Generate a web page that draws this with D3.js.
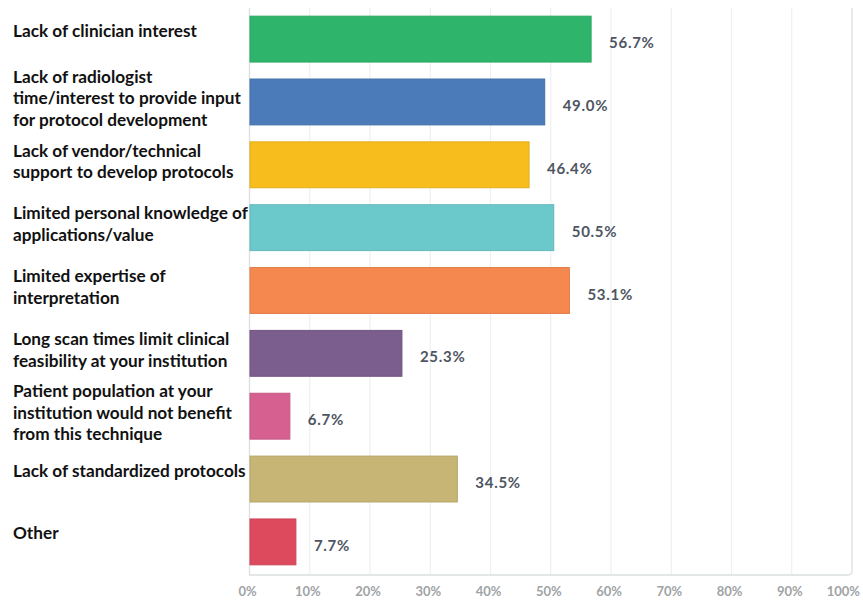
<!DOCTYPE html>
<html>
<head>
<meta charset="utf-8">
<script src="https://cdn.jsdelivr.net/npm/d3@7"></script>
<style>
  html, body { margin: 0; padding: 0; background: #fff; }
  svg { display: block; }
</style>
</head>
<body>
<svg id="chart" width="863" height="602"></svg>
<script>
// ---- data ----
const categories = [
  ["Lack of clinician interest"],
  ["Lack of radiologist", "time/interest to provide input", "for protocol development"],
  ["Lack of vendor/technical", "support to develop protocols"],
  ["Limited personal knowledge of", "applications/value"],
  ["Limited expertise of", "interpretation"],
  ["Long scan times limit clinical", "feasibility at your institution"],
  ["Patient population at your", "institution would not benefit", "from this technique"],
  ["Lack of standardized protocols"],
  ["Other"]
];
const values = [56.7, 49.0, 46.4, 50.5, 53.1, 25.3, 6.7, 34.5, 7.7];
const valueLabels = ["56.7%", "49.0%", "46.4%", "50.5%", "53.1%", "25.3%", "6.7%", "34.5%", "7.7%"];
const colors = ["#2eb56b", "#4b7bb9", "#f6bd1c", "#6bc9cb", "#f5884f", "#7b5d8e", "#d6608f", "#c6b575", "#dd4a5e"];
const tickValues = [0, 10, 20, 30, 40, 50, 60, 70, 80, 90, 100];
const tickLabels = ["0%", "10%", "20%", "30%", "40%", "50%", "60%", "70%", "80%", "90%", "100%"];

(function () {
// ---- layout ----
const W = 863;
const pL = 249.5, pR = 852, pT = 8, pB = 575;
const svg = d3.select("#chart");

const x = d3.scaleLinear().domain([0, 100]).range([pL, pR]);
const y = d3.scaleBand().domain(d3.range(values.length)).range([pT, 573])
  .paddingInner(0.27).paddingOuter(0.13);

// gridlines
svg.append("g").selectAll("line").data(tickValues.slice(1, -1)).join("line")
  .attr("x1", d => x(d)).attr("x2", d => x(d))
  .attr("y1", pT).attr("y2", pB)
  .attr("stroke", "#edf0f1").attr("stroke-width", 1.2);

// frame: left axis, bottom line, right edge with rounded corner
const r = 4;
svg.append("path")
  .attr("d", `M${pL},${pT} L${pL},${pB} L${pR - r},${pB} Q${pR},${pB} ${pR},${pB - r} L${pR},${pT}`)
  .attr("fill", "none").attr("stroke", "#dcdfe0").attr("stroke-width", 1.3);

// bars
svg.append("g").selectAll("rect").data(values).join("rect")
  .attr("x", x(0) + 0.5)
  .attr("y", (d, i) => y(i))
  .attr("width", d => x(d) - x(0) - 0.5)
  .attr("height", y.bandwidth())
  .attr("fill", (d, i) => colors[i])
  .attr("stroke", (d, i) => d3.color(colors[i]).darker(0.25))
  .attr("stroke-width", 1);

// value labels
svg.append("g").selectAll("text").data(values).join("text")
  .attr("x", d => x(d) + 18)
  .attr("y", (d, i) => y(i) + y.bandwidth() / 2 + 3)
  .attr("dominant-baseline", "central")
  .attr("font-family", "Lato, 'DejaVu Sans', sans-serif")
  .attr("font-weight", "bold")
  .attr("font-size", 15)
  .attr("letter-spacing", 0.7)
  .attr("fill", "#4e5562")
  .text((d, i) => valueLabels[i]);

// category labels
const lineH = 21.5;
const cat = svg.append("g");
categories.forEach((lines, i) => {
  const cy = y(i) + y.bandwidth() / 2 + (lines.length > 1 ? -4 : -9);
  const y0 = cy - (lines.length - 1) * lineH / 2;
  const t = cat.append("text")
    .attr("font-family", "Lato, 'Open Sans', sans-serif")
    .attr("font-weight", "bold")
    .attr("font-size", 17.2)
    .attr("fill", "#111");
  lines.forEach((s, k) => {
    t.append("tspan").attr("x", 13).attr("y", y0 + k * lineH)
      .attr("dominant-baseline", "central").text(s);
  });
});

// x axis tick labels
const tl = svg.append("g").selectAll("text").data(tickValues).join("text")
  .attr("y", 591)
  .attr("dominant-baseline", "central")
  .attr("font-family", "Lato, 'DejaVu Sans', sans-serif")
  .attr("font-weight", "bold")
  .attr("font-size", 13)
  .attr("fill", "#a0a3a5")
  .text((d, i) => tickLabels[i]);
tl.each(function (d) {
  const w = this.getComputedTextLength();
  let cx = x(d) - 2;
  if (cx + w / 2 > W - 3) cx = W - 3 - w / 2;
  d3.select(this).attr("x", cx).attr("text-anchor", "middle");
});
})();
</script>
</body>
</html>
